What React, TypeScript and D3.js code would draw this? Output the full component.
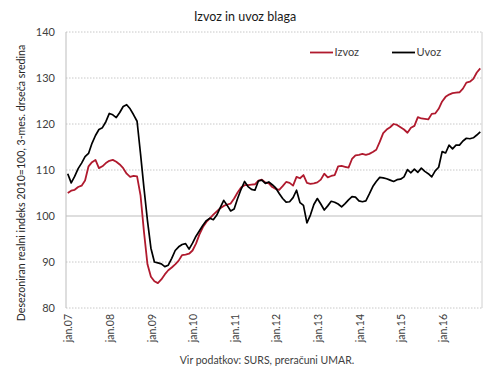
import React from "react";
import * as d3 from "d3";

const years = ["07", "08", "09", "10", "11", "12", "13", "14", "15", "16"];
const monthsPerYear = 12;
const tickLabels = years.map((y) => `jan.${y}`);
const yTicks = [80, 90, 100, 110, 120, 130, 140];

const izvoz = [
  105.0, 105.5, 105.7, 106.3, 106.6, 107.7, 110.8, 111.7, 112.2, 110.4, 110.8, 111.5,
  112.0, 112.2, 111.8, 111.2, 110.4, 109.2, 108.5, 108.7, 108.6, 104.5, 96.5, 89.5,
  86.8, 85.8, 85.4, 86.2, 87.3, 88.2, 88.8, 89.5, 90.3, 91.5, 91.6, 91.8,
  92.5, 94.0, 96.0, 97.6, 98.7, 99.5, 100.3, 101.0, 101.7, 102.2, 102.5, 102.7,
  103.8, 105.1, 106.2, 106.7, 106.7, 106.8, 106.9, 107.7, 107.9, 107.3, 107.1, 106.3,
  105.9, 105.7, 106.5, 107.4, 107.2, 106.6, 108.5, 108.2, 108.9, 107.2, 107.0, 107.1,
  107.3, 107.9, 109.2, 108.4, 108.7, 108.9, 110.8, 110.9, 110.7, 110.5, 112.4, 113.2,
  113.3, 113.5, 113.3, 113.5, 113.9, 114.4, 116.1, 118.0, 118.8, 119.3, 120.0, 119.8,
  119.3, 118.8, 118.1, 119.2, 119.6, 121.5, 121.2, 121.1, 121.0, 122.2, 122.3, 123.3,
  124.9, 125.9, 126.4, 126.7, 126.8, 126.9, 127.7, 129.0, 129.2, 129.8, 131.2, 132.1,
];

const uvoz = [
  109.2, 107.2, 108.6, 110.3, 111.5, 112.9, 113.6, 115.8, 117.5, 118.8, 119.2, 120.5,
  122.3, 122.0, 121.4, 122.5, 123.8, 124.2, 123.3, 122.0, 120.6, 113.5, 106.0, 99.0,
  93.0, 90.0, 89.8, 89.6, 89.0, 89.3, 90.8, 92.5, 93.3, 93.8, 94.0, 92.8,
  94.1, 95.6, 96.8, 98.0, 99.0, 99.5, 99.2, 100.2, 101.8, 103.4, 102.3, 101.1,
  101.5, 103.8, 105.8, 107.5, 106.4, 105.8, 105.6, 107.6, 107.8, 107.1, 107.4, 106.8,
  106.1, 104.9, 103.8, 103.0, 103.1, 104.0, 105.6, 102.9, 102.3, 98.5, 100.2, 102.5,
  103.8, 102.6, 101.3, 102.2, 103.2, 103.0, 102.6, 102.0, 102.7, 103.5, 104.2, 104.1,
  103.3, 103.1, 103.3, 104.8, 106.4, 107.5, 108.4, 108.3, 108.1, 107.8, 107.5, 107.9,
  108.0, 108.5, 110.1, 109.4, 110.2, 109.5, 110.4, 109.7, 109.2, 108.5, 109.8, 110.6,
  114.0, 113.7, 115.4, 114.6, 115.4, 115.4, 116.3, 116.9, 116.8, 117.0, 117.6, 118.3,
];

const W = 490;
const H = 368;
const left = 66;
const right = 482;
const top = 32;
const bottom = 308;
const FONT = "Lato, 'Open Sans', sans-serif";
const RED = "#B01A2E";

export default function App() {
  const idx = d3.range(izvoz.length);
  const x = d3.scalePoint<number>().domain(idx).range([left, right]).padding(0.5);
  const y = d3.scaleLinear().domain([80, 140]).range([bottom, top]);
  const line = d3
    .line<number>()
    .x((_, i) => x(i) as number)
    .y((d) => y(d))
    .curve(d3.curveLinear);

  return (
    <svg
      width={W}
      height={H}
      style={{ position: "absolute", left: 0, top: 0, background: "#fff" }}
      fontFamily={FONT}
    >
      <rect x={0} y={0} width={W} height={H} fill="#fff" />
      <text x={245} y={21} textAnchor="middle" fontSize={12.5} fill="#1a1a1a">
        Izvoz in uvoz blaga
      </text>

      {yTicks.map((t) => (
        <line
          key={t}
          x1={left}
          x2={right}
          y1={y(t)}
          y2={y(t)}
          stroke={t === 100 ? "#BDBDBD" : "#C8C8C8"}
          strokeWidth={1}
          strokeDasharray={t === 100 ? undefined : "1.5,1.5"}
        />
      ))}
      <line x1={left} x2={left} y1={top} y2={bottom} stroke="#BDBDBD" />
      <line x1={right} x2={right} y1={top} y2={bottom} stroke="#D0D0D0" />

      {yTicks.map((t) => (
        <text
          key={t}
          x={55}
          y={y(t)}
          dy="0.35em"
          textAnchor="end"
          fontSize={11}
          fill="#404040"
        >
          {t}
        </text>
      ))}

      <text
        transform={`translate(21,${(top + bottom) / 2 + 13}) rotate(-90)`}
        textAnchor="middle"
        dy="0.35em"
        fontSize={10.6}
        fill="#262626"
      >
        Desezoniran realni indeks 2010=100, 3-mes. drseča sredina
      </text>

      {tickLabels.map((lab, i) => {
        const cx = x(i * monthsPerYear) as number;
        return (
          <text
            key={lab}
            transform={`translate(${cx + 1},${314}) rotate(-90)`}
            textAnchor="end"
            dy="0.35em"
            fontSize={10.5}
            fill="#404040"
          >
            {lab}
          </text>
        );
      })}

      <path d={line(izvoz) || ""} fill="none" stroke={RED} strokeWidth={1.8} strokeLinejoin="round" />
      <path d={line(uvoz) || ""} fill="none" stroke="#000" strokeWidth={1.7} strokeLinejoin="round" />

      <line x1={310} x2={333} y1={52.5} y2={52.5} stroke={RED} strokeWidth={1.8} />
      <text x={334.5} y={52.5} dy="0.35em" fontSize={11} fill="#404040">
        Izvoz
      </text>
      <line x1={392} x2={415} y1={52.5} y2={52.5} stroke="#000" strokeWidth={1.8} />
      <text x={416.5} y={52.5} dy="0.35em" fontSize={11} fill="#404040">
        Uvoz
      </text>

      <text x={267} y={360} dy="0.35em" textAnchor="middle" fontSize={10.5} fill="#404040">
        Vir podatkov: SURS, preračuni UMAR.
      </text>
    </svg>
  );
}
